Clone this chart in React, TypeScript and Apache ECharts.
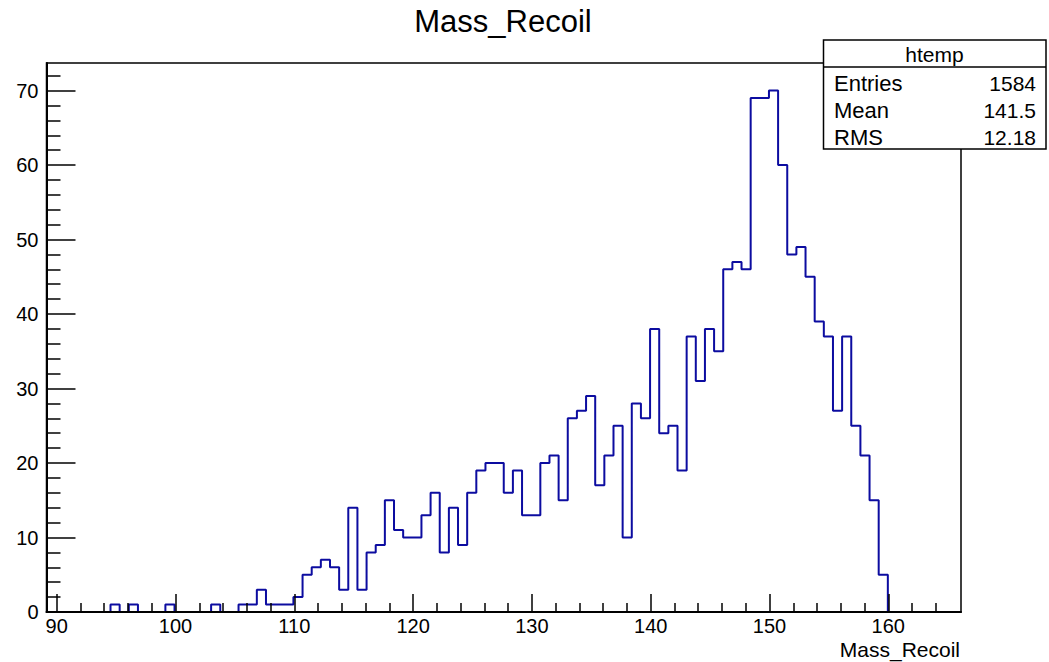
import React, { useEffect, useRef } from "react";
import * as echarts from "echarts";

// Histogram definition (100 bins between X_MIN and X_MAX)
const X_MIN = 89.14;
const X_MAX = 166.12;
const COUNTS = [
  0, 0, 0, 0, 0, 0, 0, 1, 0, 1,
  0, 0, 0, 1, 0, 0, 0, 0, 1, 0,
  0, 1, 1, 3, 1, 1, 1, 2, 5, 6,
  7, 6, 3, 14, 3, 8, 9, 15, 11, 10,
  10, 13, 16, 8, 14, 9, 16, 19, 20, 20,
  16, 19, 13, 13, 20, 21, 15, 26, 27, 29,
  17, 21, 25, 10, 28, 26, 38, 24, 25, 19,
  37, 31, 38, 35, 46, 47, 46, 69, 69, 70,
  60, 48, 49, 45, 39, 37, 27, 37, 25, 21,
  15, 5, 0, 0, 0, 0, 0, 0, 0, 0,
];
const Y_MAX = 73.7;

const X_MAJOR = [90, 100, 110, 120, 130, 140, 150, 160];
const X_MINOR = [92, 94, 96, 98, 102, 104, 106, 108, 112, 114, 116, 118, 122, 124, 126, 128, 132, 134, 136, 138, 142, 144, 146, 148, 152, 154, 156, 158, 162, 164];
const Y_MAJOR = [0, 10, 20, 30, 40, 50, 60, 70];
const Y_MINOR = [2, 4, 6, 8, 12, 14, 16, 18, 22, 24, 26, 28, 32, 34, 36, 38, 42, 44, 46, 48, 52, 54, 56, 58, 62, 64, 66, 68, 72];

const TITLE = "Mass_Recoil";
const X_TITLE = "Mass_Recoil";
const STATS_NAME = "htemp";
const STATS_LABELS = ["Entries", "Mean", "RMS"];
const STATS_VALUES = ["1584", "141.5", "12.18"];

const FONT = "'Liberation Sans', Arial, Helvetica, sans-serif";

export default function App() {
  const ref = useRef<HTMLDivElement>(null);

  useEffect(() => {
    if (!ref.current) return;
    const chart = echarts.init(ref.current, null, { renderer: "svg" });

    const binW = (X_MAX - X_MIN) / COUNTS.length;
    const pts: number[][] = [[X_MIN, 0]];
    COUNTS.forEach((c, k) => {
      const x0 = X_MIN + k * binW;
      pts.push([x0, c], [x0 + binW, c]);
    });
    pts.push([X_MAX, 0]);

    const black = "#000";
    const statRows = STATS_LABELS.map((lab, i) => [
      {
        type: "text",
        x: 834,
        y: 83 + i * 27,
        style: { text: lab, fontSize: 22, fontFamily: FONT, fill: black, textAlign: "left", textVerticalAlign: "middle" },
      },
      {
        type: "text",
        x: 1036,
        y: 83 + i * 27,
        style: { text: STATS_VALUES[i], fontSize: 21, fontFamily: FONT, fill: black, textAlign: "right", textVerticalAlign: "middle" },
      },
    ]).flat();

    chart.setOption({
      animation: false,
      backgroundColor: "#fff",
      grid: {
        left: 46.5,
        right: 88,
        top: 63,
        bottom: 50,
        show: true,
        borderColor: black,
        borderWidth: 1.5,
        backgroundColor: "transparent",
      },
      xAxis: [
        {
          type: "value",
          min: X_MIN,
          max: X_MAX,
          position: "bottom",
          z: 5,
          axisLine: { show: true, onZero: false, lineStyle: { color: black, width: 2 } },
          axisTick: { show: true, inside: true, length: 18, customValues: X_MAJOR, lineStyle: { color: black, width: 1.5 } },
          axisLabel: { show: true, customValues: X_MAJOR, margin: 4, color: black, fontSize: 20, fontFamily: FONT },
          splitLine: { show: false },
        },
        {
          type: "value",
          min: X_MIN,
          max: X_MAX,
          position: "bottom",
          z: 5,
          axisLine: { show: false, onZero: false },
          axisTick: { show: true, inside: true, length: 9, customValues: X_MINOR, lineStyle: { color: black, width: 1.5 } },
          axisLabel: { show: false },
          splitLine: { show: false },
        },
      ],
      yAxis: [
        {
          type: "value",
          min: 0,
          max: Y_MAX,
          position: "left",
          z: 5,
          axisLine: { show: true, onZero: false, lineStyle: { color: black, width: 2 } },
          axisTick: { show: true, inside: true, length: 29, customValues: Y_MAJOR, lineStyle: { color: black, width: 1.5 } },
          axisLabel: { show: true, customValues: Y_MAJOR, margin: 8, color: black, fontSize: 20, fontFamily: FONT },
          splitLine: { show: false },
        },
        {
          type: "value",
          min: 0,
          max: Y_MAX,
          position: "left",
          z: 5,
          axisLine: { show: false, onZero: false },
          axisTick: { show: true, inside: true, length: 14, customValues: Y_MINOR, lineStyle: { color: black, width: 1.5 } },
          axisLabel: { show: false },
          splitLine: { show: false },
        },
      ],
      series: [
        {
          type: "line",
          xAxisIndex: 0,
          yAxisIndex: 0,
          data: pts,
          showSymbol: false,
          symbol: "none",
          z: 1,
          lineStyle: { color: "#0c0ca0", width: 2 },
          silent: true,
        },
      ],
      graphic: [
        {
          type: "text",
          x: 503,
          y: 21,
          style: { text: TITLE, fontSize: 31, fontFamily: FONT, fill: black, textAlign: "center", textVerticalAlign: "middle" },
        },
        {
          type: "text",
          x: 960,
          y: 649,
          style: { text: X_TITLE, fontSize: 21, fontFamily: FONT, fill: black, textAlign: "right", textVerticalAlign: "middle" },
        },
        {
          type: "rect",
          z: 50,
          shape: { x: 823.5, y: 40, width: 222.5, height: 109 },
          style: { fill: "#fff", stroke: black, lineWidth: 1.5 },
        },
        {
          type: "line",
          z: 51,
          shape: { x1: 823.5, y1: 67, x2: 1046, y2: 67 },
          style: { stroke: black, lineWidth: 1.5 },
        },
        {
          type: "text",
          z: 51,
          x: 934.5,
          y: 54,
          style: { text: STATS_NAME, fontSize: 21, fontFamily: FONT, fill: black, textAlign: "center", textVerticalAlign: "middle" },
        },
        ...statRows.map((e) => ({ ...e, z: 51 })),
      ],
    });

    return () => chart.dispose();
  }, []);

  return (
    <div
      ref={ref}
      style={{ position: "fixed", left: 0, top: 0, width: 1049, height: 662, background: "#fff" }}
    />
  );
}
